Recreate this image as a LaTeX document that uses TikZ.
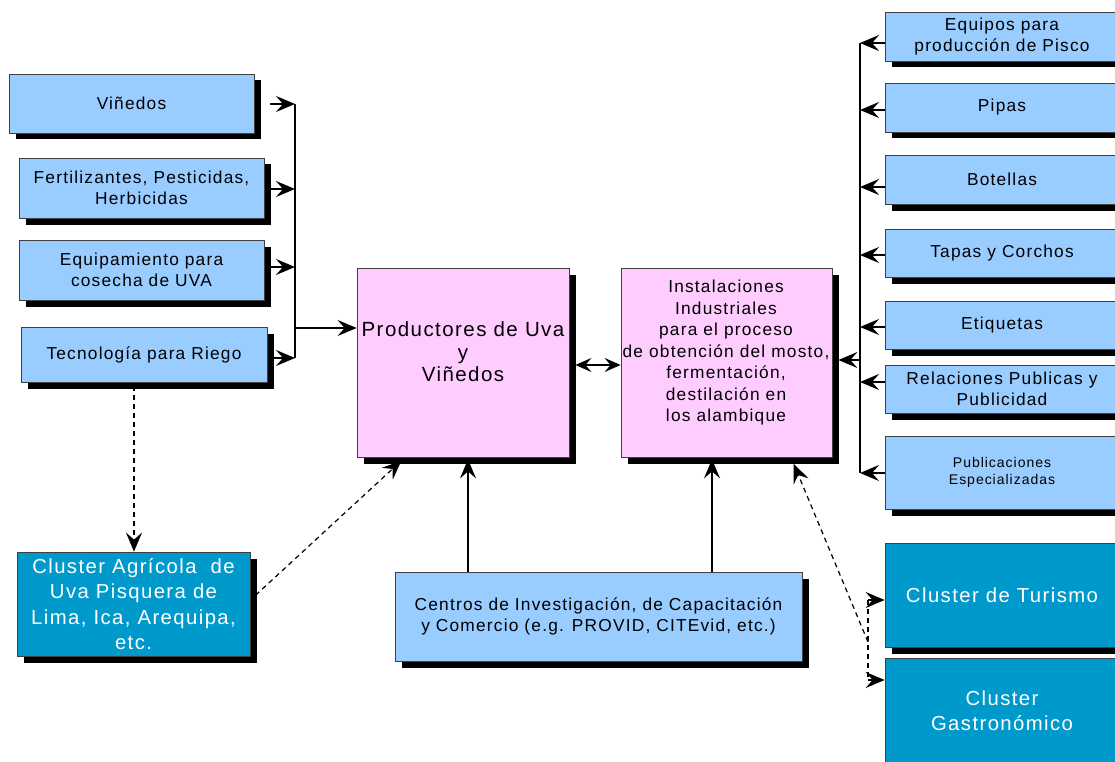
\documentclass[tikz,border=0pt]{standalone}
\usepackage{fontspec}
\setmainfont{Liberation Sans}[LetterSpace=7]
\usetikzlibrary{arrows.meta,shadows}
\definecolor{lblue}{HTML}{99CCFF}
\definecolor{lpink}{HTML}{FFCCFF}
\definecolor{dblue}{HTML}{0099CC}
\newcommand\fsN{\fontsize{17.3}{21.5}\selectfont}
\newcommand\fsS{\fontsize{14}{17}\selectfont}
\newcommand\fsB{\fontsize{20.3}{25.3}\selectfont}
\newcommand\fsP{\fontsize{20.5}{22.5}\selectfont}
\tikzset{
  box/.style={draw=black!75, line width=0.8pt, inner sep=0pt, align=center,
    general shadow={fill=black, shadow xshift=6.5pt, shadow yshift=-6.5pt}},
  lbox/.style={box, fill=lblue, font=\fsN},
  pbox/.style={box, fill=lpink},
  dbox/.style={box, fill=dblue, text=white, font=\fsB},
  arr/.style={line width=1.2pt, -{Stealth[length=19pt,width=16pt,inset=7pt]}},
  darr/.style={arr, dash pattern=on 5pt off 4pt},
  dline/.style={line width=1.2pt, dash pattern=on 5pt off 4pt},
  bar/.style={line width=1.2pt},
}
\begin{document}
\begin{tikzpicture}[x=1pt,y=-1pt]
\useasboundingbox (0,0) rectangle (1115,762);
\clip (0,0) rectangle (1115,762);
\fill[white] (0,0) rectangle (1115,762);
% left column
\node[lbox, minimum width=245pt, minimum height=59pt] (vin) at (131.5,103.5) {Viñedos};
\node[lbox, minimum width=245pt, minimum height=60pt] (fer) at (141.5,188) {Fertilizantes, Pesticidas,\\Herbicidas};
\node[lbox, minimum width=245pt, minimum height=60pt] (equ) at (141.5,270) {Equipamiento para\\cosecha de UVA};
\node[lbox, minimum width=246pt, minimum height=55pt] (tec) at (144,354.5) {Tecnología para Riego};
% centre
\node[pbox, minimum width=212pt, minimum height=189pt] (prod) at (463,362.5) {};
\node[font=\fsP, align=center, inner sep=0pt] (prodt) at (463,352) {Productores de Uva\\y\\Viñedos};
\node[pbox, minimum width=211pt, minimum height=189pt] (inst) at (726.5,362.5) {};
\node[font=\fsN, align=center, inner sep=0pt] (instt) at (726,353) {Instalaciones\\Industriales\\para el proceso\\de obtención del mosto,\\fermentación,\\destilación en\\los alambique};
% right column
\node[lbox, minimum width=234pt, minimum height=49pt] (r1) at (1002,36.5) {Equipos para\\producción de Pisco};
\node[lbox, minimum width=234pt, minimum height=49pt] (r2) at (1002,107.5) {Pipas};
\node[lbox, minimum width=234pt, minimum height=49pt] (r3) at (1002,179.5) {Botellas};
\node[lbox, minimum width=234pt, minimum height=48pt] (r4) at (1002,253) {Tapas y Corchos};
\node[lbox, minimum width=234pt, minimum height=48pt] (r5) at (1002,325) {Etiquetas};
\node[lbox, minimum width=234pt, minimum height=48pt] (r6) at (1002,389) {Relaciones Publicas y\\Publicidad};
\node[lbox, font=\fsS, minimum width=234pt, minimum height=73pt] (r7) at (1002,472.5) {Publicaciones\\Especializadas};
% clusters
\node[dbox, minimum width=234pt, minimum height=104pt] (tur) at (1002,595) {Cluster de Turismo};
\node[dbox, minimum width=234pt, minimum height=106pt] (gas) at (1002,711) {Cluster\\Gastronómico};
\node[dbox, minimum width=233pt, minimum height=104pt] (agr) at (133.5,604) {Cluster Agrícola~ de\\Uva Pisquera de\\Lima, Ica, Arequipa,\\etc.};
\node[lbox, minimum width=407pt, minimum height=89pt] (cen) at (598.5,616.5) {Centros de Investigación, de Capacitación\\y Comercio (e.g. PROVID, CITEvid, etc.)};
% left bracket
\coordinate (L1) at (295,104);
\coordinate (L2) at (295,189);
\coordinate (L3) at (295,267);
\coordinate (L4) at (295,358);
\coordinate (L0) at (295,328);
\draw[arr, shorten <=16pt] (vin.east |- L1) -- (L1);
\draw[arr, shorten <=6pt] (fer.east |- L2) -- (L2);
\draw[arr, shorten <=6pt] (equ.east |- L3) -- (L3);
\draw[arr, shorten <=3pt] (tec.east |- L4) -- (L4);
\draw[bar] (L1) -- (L4);
\draw[arr] (L0) -- (prod.west |- L0);
% right bracket
\coordinate (R1) at (860,43);
\coordinate (R2) at (860,110);
\coordinate (R3) at (860,187);
\coordinate (R4) at (860,255);
\coordinate (R5) at (860,327);
\coordinate (R6) at (860,382);
\coordinate (R7) at (860,473);
\coordinate (R0) at (860,360);
\foreach \b/\r in {r1/R1,r2/R2,r3/R3,r4/R4,r5/R5,r6/R6,r7/R7}
  \draw[arr] (\b.west |- \r) -- (\r);
\draw[bar] (R1) -- (R7);
\draw[arr, shorten >=6pt] (R0) -- (inst.east |- R0);
% double arrow
\coordinate (D) at (600,365);
\draw[line width=1.2pt, {Stealth[length=16pt,width=14pt,inset=6pt]}-{Stealth[length=16pt,width=14pt,inset=6pt]}, shorten <=6pt] (prod.east |- D) -- (inst.west |- D);
% centros
\coordinate (C1) at (468,0);
\coordinate (C2) at (712,0);
\draw[arr, shorten >=2pt] (cen.north -| C1) -- (prod.south -| C1);
\draw[arr, shorten >=2pt] (cen.north -| C2) -- (inst.south -| C2);
% dashed
\coordinate (X) at (134,0);
\draw[darr, shorten <=4pt] (tec.south -| X) -- (agr.north -| X);
\coordinate (P1) at (405,0);
\coordinate (A1) at (0,600);
\draw[darr, shorten <=7pt, shorten >=5pt] (agr.east |- A1) -- (prod.south -| P1);
\coordinate (T1) at (868,600);
\coordinate (T2) at (868,680);
\coordinate (T3) at (868,642);
\coordinate (Q) at (791,0);
\draw[dline] (T1) -- (T2);
\draw[darr] (T1) -- (tur.west |- T1);
\draw[darr] (T2) -- (gas.west |- T2);
\draw[darr, shorten >=7pt] (T3) -- (inst.south -| Q);
\end{tikzpicture}
\end{document}
